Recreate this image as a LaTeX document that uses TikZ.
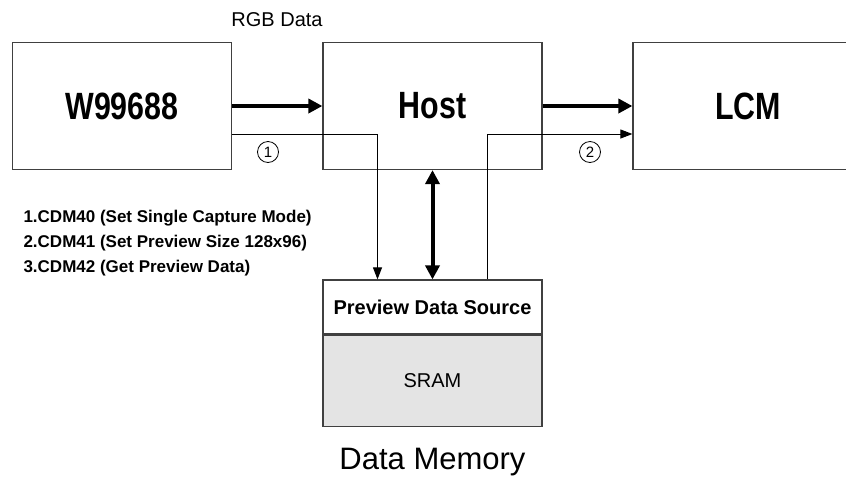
\documentclass[tikz,border=0pt]{standalone}
\usepackage{fontspec}
\setmainfont{Liberation Sans}
\usetikzlibrary{arrows.meta,positioning,calc}
\definecolor{boxline}{RGB}{64,64,64}
\definecolor{sramgray}{RGB}{228,228,228}
\newcommand{\narrowlabel}[1]{\scalebox{0.8}[1]{#1}}

\begin{document}
\begin{tikzpicture}[
  x=1pt,y=-1pt,
  bigbox/.style={draw=boxline,line width=1.2pt,minimum width=219pt,minimum height=127pt,inner sep=0pt,font=\bfseries\fontsize{38}{42}\selectfont},
  membox/.style={draw=boxline,line width=1.2pt,minimum width=219pt,inner sep=0pt},
  thickarr/.style={-{Triangle[length=14pt,width=14pt]},line width=4pt},
  thinarr/.style={-{Triangle[length=12pt,width=9pt]},line width=1pt},
  dblarr/.style={{Triangle[length=14pt,width=14pt]}-{Triangle[length=14pt,width=14pt]},line width=4pt},
  stepnum/.style={circle,draw,line width=0.8pt,inner sep=0pt,minimum size=21pt,font=\fontsize{15}{15}\selectfont},
]
\useasboundingbox (0,0) rectangle (846,491);
\clip (0,0) rectangle (846,491);

\node[bigbox] (w99688) at (122,106) {\narrowlabel{W99688}};
\node[bigbox] (host) at (432.5,106) {\narrowlabel{Host}};
\node[bigbox,minimum width=230pt] (lcm) at (748,106) {\narrowlabel{LCM}};

\node[membox,minimum height=54pt,font=\bfseries\fontsize{20}{24}\selectfont] (pds) at (432.5,307) {Preview Data Source};
\node[membox,minimum height=91pt,fill=sramgray,font=\fontsize{20}{24}\selectfont,below=0pt of pds] (sram) {SRAM};
\node[font=\fontsize{31}{36}\selectfont] (mem) at (432.5,462) {Data Memory};

\node[font=\fontsize{20}{24}\selectfont] (rgb) at (277,20) {RGB Data};

\draw[thickarr] (w99688.east) -- (host.west);
\draw[thickarr] (host.east) -- (lcm.west);
\draw[dblarr] (host.south) -- (pds.north);

\draw[thinarr] ([yshift=-28pt]w99688.east) -| ([xshift=-55pt]pds.north);
\draw[thinarr] ([xshift=55pt]pds.north) |- ([yshift=-28pt]lcm.west);

\node[stepnum] (one) at (268,152) {1};
\node[stepnum] (two) at (590,152) {2};

\node[anchor=west,align=left,font=\bfseries\fontsize{17}{25}\selectfont] (cmds) at (20,243)
  {1.CDM40 (Set Single Capture Mode)\\2.CDM41 (Set Preview Size 128x96)\\3.CDM42 (Get Preview Data)};

\end{tikzpicture}
\end{document}
